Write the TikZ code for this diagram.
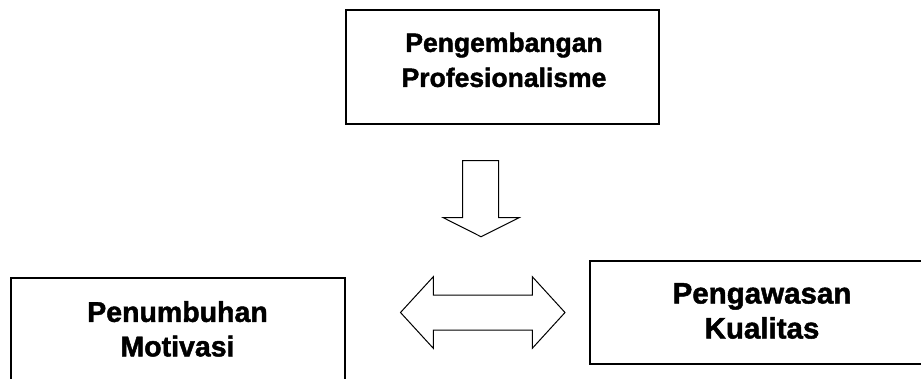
\documentclass[tikz,border=0pt]{standalone}
\usepackage{fontspec}
\setmainfont{Liberation Sans}
\newfontfamily\heavyfont{Liberation Sans Bold}[FakeBold=1.6]
\tikzset{
  box/.style={draw, line width=1.6pt},
  label/.style={inner sep=0pt, anchor=north, align=center},
  blockarrow/.style={draw, line width=1pt, fill=white, line join=miter}
}
\begin{document}
\begin{tikzpicture}[x=1pt, y=-1pt]
    \clip (0,0) rectangle (921,378);
    \fill[white] (0,0) rectangle (921,378);
    % boxes
    \draw[box] (346,10) rectangle (659,124);
    \draw[box] (11,278) rectangle (345,400);
    \draw[box] (590,261) rectangle (940,364);
    % texts
    \node[label, font=\heavyfont\fontsize{26.5}{35}\selectfont] (top) at (504,32.5) {Pengembangan\\Profesionalisme};
    \node[label, font=\heavyfont\fontsize{28.5}{34.5}\selectfont] (left) at (177.5,301) {Penumbuhan\\Motivasi};
    \node[label, font=\heavyfont\fontsize{29.5}{35}\selectfont] (right) at (762,283) {Pengawasan\\Kualitas};
    % down arrow
    \draw[blockarrow] (462.7,160.7) -- (498.7,160.7) -- (498.7,217.7) -- (519,217.7)
      -- (481,236.7) -- (443.3,217.7) -- (462.7,217.7) -- cycle;
    % double arrow
    \draw[blockarrow] (400.5,312.5) -- (433.3,276.7) -- (433.3,295) -- (532.3,295)
      -- (532.3,276.7) -- (565,312.5) -- (532.3,348.3) -- (532.3,330) -- (433.3,330)
      -- (433.3,348.3) -- cycle;
  \end{tikzpicture}
\end{document}
